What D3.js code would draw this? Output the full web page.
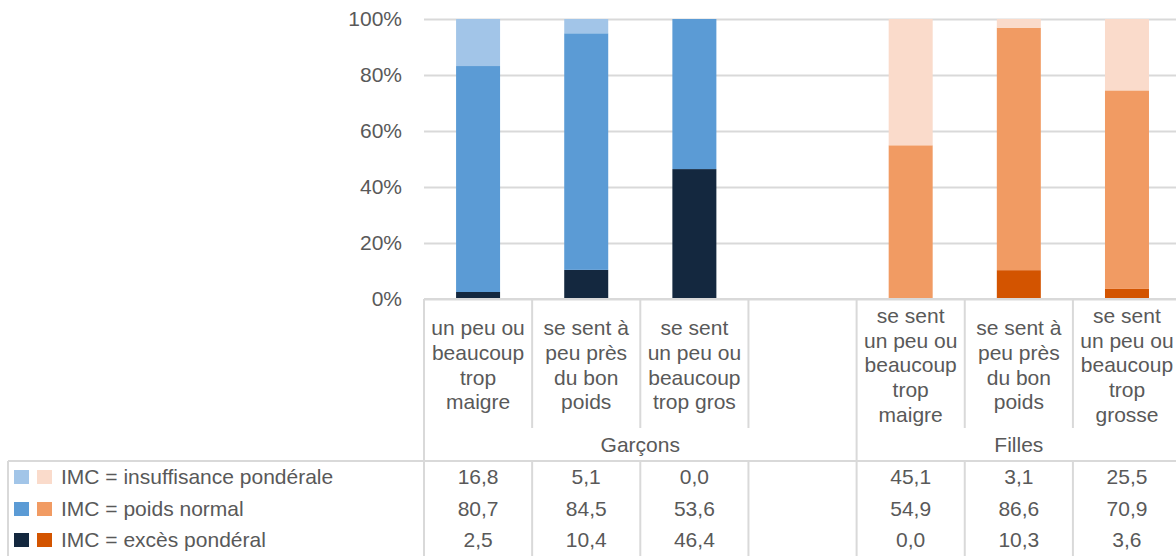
<!DOCTYPE html>
<html>
<head>
<meta charset="utf-8">
<script src="https://cdn.jsdelivr.net/npm/d3@7"></script>
<style>
  body { margin: 0; background: #fff; }
  text { font-family: "Liberation Sans", Arial, sans-serif; fill: #595959; }
</style>
</head>
<body>
<div id="chart"></div>
<script>
// data
const groups = ["Garçons", "Filles"];
const groupOf = [0, 0, 0, 0, 1, 1, 1];
const categories = ["g1", "g2", "g3", "gap", "f1", "f2", "f3"];
const categoryLabels = [
    ["un peu ou", "beaucoup", "trop", "maigre"],
    ["se sent à", "peu près", "du bon", "poids"],
    ["se sent", "un peu ou", "beaucoup", "trop gros"],
    [],
    ["se sent", "un peu ou", "beaucoup", "trop", "maigre"],
    ["se sent à", "peu près", "du bon", "poids"],
    ["se sent", "un peu ou", "beaucoup", "trop", "grosse"]
];
const seriesNames = ["IMC = insuffisance pondérale", "IMC = poids normal", "IMC = excès pondéral"];
const insuffisance = [16.8, 5.1, 0.0, null, 45.1, 3.1, 25.5];
const poidsNormal = [80.7, 84.5, 53.6, null, 54.9, 86.6, 70.9];
const excesPonderal = [2.5, 10.4, 46.4, null, 0.0, 10.3, 3.6];
const yTicks = [0, 20, 40, 60, 80, 100];

const boysColors = ["#A2C5E8", "#5B9BD5", "#14283F"];
const girlsColors = ["#FADBCB", "#F19B63", "#D35400"];

const W = 1176, H = 556;
const plotLeft = 424, colW = 108.15;
const plotTop = 19, plotBottom = 299;
const fontSize = 21;
const lineCol = "#D9D9D9";

const svg = d3.select("#chart").append("svg")
    .attr("width", W)
    .attr("height", H);

const x = d3.scaleBand()
    .domain(categories)
    .range([plotLeft, plotLeft + colW * categories.length])
    .padding(0);

const y = d3.scaleLinear()
    .domain([0, 100])
    .range([plotBottom, plotTop]);

// gridlines + y labels
const yAxis = svg.append("g")
    .attr("transform", `translate(${plotLeft},0)`)
    .call(d3.axisLeft(y)
        .tickValues(yTicks)
        .tickSize(-(W - plotLeft))
        .tickPadding(22)
        .tickFormat(d => d + "%"));
yAxis.select(".domain").remove();
yAxis.selectAll("line").attr("stroke", lineCol).attr("stroke-width", 2);
yAxis.selectAll("text")
    .attr("font-size", fontSize)
    .attr("font-family", "Liberation Sans, Arial, sans-serif")
    .attr("fill", "#595959");

// stacked bars
const rows = categories.map((c, i) => ({
    cat: c,
    grp: groupOf[i],
    ex: excesPonderal[i] || 0,
    norm: poidsNormal[i] || 0,
    ins: insuffisance[i] || 0,
    empty: insuffisance[i] === null
}));
const keys = ["ex", "norm", "ins"];
const colorIdx = {ins: 0, norm: 1, ex: 2};
const stacked = d3.stack().keys(keys)(rows.filter(r => !r.empty));

const barW = 44;
stacked.forEach(layer => {
    svg.append("g")
        .selectAll("rect")
        .data(layer)
        .join("rect")
        .attr("x", d => x(d.data.cat) + (x.bandwidth() - barW) / 2)
        .attr("width", barW)
        .attr("y", d => y(d[1]))
        .attr("height", d => y(d[0]) - y(d[1]))
        .attr("fill", d => (d.data.grp === 0 ? boysColors : girlsColors)[colorIdx[layer.key]]);
});

// axis line at 0
svg.append("line")
    .attr("x1", plotLeft).attr("x2", W)
    .attr("y1", y(0)).attr("y2", y(0))
    .attr("stroke", lineCol).attr("stroke-width", 2);

// category and table lines
const catBottom = 428, tableTop = 461;
const bounds = categories.map(c => x(c)).concat([x.range()[1]]);
bounds.forEach((b, i) => {
    const isGroupEdge = i === 0 || i === bounds.length - 1 || groupOf[i] !== groupOf[i - 1];
    svg.append("line")
        .attr("x1", b).attr("x2", b)
        .attr("y1", y(0)).attr("y2", isGroupEdge ? H : catBottom)
        .attr("stroke", lineCol).attr("stroke-width", 2);
    if (!isGroupEdge) {
        svg.append("line")
            .attr("x1", b).attr("x2", b)
            .attr("y1", tableTop).attr("y2", H)
            .attr("stroke", lineCol).attr("stroke-width", 2);
    }
});
svg.append("line")
    .attr("x1", 8).attr("x2", W)
    .attr("y1", tableTop).attr("y2", tableTop)
    .attr("stroke", lineCol).attr("stroke-width", 2);
svg.append("line")
    .attr("x1", 8).attr("x2", 8)
    .attr("y1", tableTop).attr("y2", H)
    .attr("stroke", lineCol).attr("stroke-width", 2);

// category labels
const lineH = 24.6, labelMid = 365;
categories.forEach((c, i) => {
    const lines = categoryLabels[i];
    const t = svg.append("text")
        .attr("text-anchor", "middle")
        .attr("font-size", fontSize);
    lines.forEach((l, j) => {
        t.append("tspan")
            .attr("x", x(c) + x.bandwidth() / 2)
            .attr("y", labelMid + (j - (lines.length - 1) / 2) * lineH)
            .attr("dy", "0.35em")
            .text(l);
    });
});

// group labels
groups.forEach((g, gi) => {
    const cats = categories.filter((c, i) => groupOf[i] === gi);
    const x0 = x(cats[0]), x1 = x(cats[cats.length - 1]) + x.bandwidth();
    svg.append("text")
        .attr("x", (x0 + x1) / 2)
        .attr("y", 445)
        .attr("dy", "0.35em")
        .attr("text-anchor", "middle")
        .attr("font-size", fontSize)
        .text(g);
});

// data table
const seriesVals = [insuffisance, poidsNormal, excesPonderal];
const rowY = [477, 509, 540];
const fmt = v => v.toFixed(1).replace(".", ",");
seriesNames.forEach((name, si) => {
    svg.append("rect")
        .attr("x", 14).attr("y", rowY[si] - 7)
        .attr("width", 15).attr("height", 14)
        .attr("fill", boysColors[si]);
    svg.append("rect")
        .attr("x", 37).attr("y", rowY[si] - 7)
        .attr("width", 15).attr("height", 14)
        .attr("fill", girlsColors[si]);
    svg.append("text")
        .attr("x", 61)
        .attr("y", rowY[si])
        .attr("dy", "0.35em")
        .attr("font-size", fontSize)
        .text(name);
    seriesVals[si].forEach((v, ci) => {
        if (v === null) return;
        svg.append("text")
            .attr("x", x(categories[ci]) + x.bandwidth() / 2)
            .attr("y", rowY[si])
            .attr("dy", "0.35em")
            .attr("text-anchor", "middle")
            .attr("font-size", fontSize)
            .text(fmt(v));
    });
});
</script>
</body>
</html>
